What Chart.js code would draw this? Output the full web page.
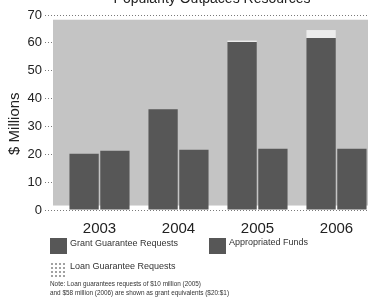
<!DOCTYPE html>
<html>
<head>
<meta charset="utf-8">
<script src="https://cdn.jsdelivr.net/npm/chart.js@4.4.1/dist/chart.umd.min.js"></script>
<style>
  html, body { margin: 0; padding: 0; background: #fff; }
  body { width: 368px; height: 299px; overflow: hidden; position: relative;
         font-family: "Liberation Sans", Arial, sans-serif; color: #222; }
  #wrap { position: absolute; left: 0; top: 0; width: 376px; height: 240px; }
  .sw { position: absolute; width: 17px; height: 16px; background: #575757; }
  .dots { background: #fff;
          background-image: radial-gradient(circle, #9a9a9a 0.7px, transparent 0.8px);
          background-size: 4px 4px; }
  .lg { position: absolute; font-size: 9px; line-height: 10px; white-space: nowrap; color: #333; }
  .note { position: absolute; left: 50px; font-size: 6.4px; line-height: 8px; white-space: nowrap; color: #333; }
</style>
</head>
<body>
<div id="wrap"><canvas id="chart"></canvas></div>

<div class="sw" style="left:50px; top:238px;"></div>
<div class="lg" style="left:70px; top:238px;">Grant Guarantee Requests</div>
<div class="sw" style="left:209px; top:238px;"></div>
<div class="lg" style="left:229px; top:237px;">Appropriated Funds</div>
<div class="sw dots" style="left:50px; top:262px;"></div>
<div class="lg" style="left:70px; top:261px;">Loan Guarantee Requests</div>
<div class="note" style="top:280px;">Note: Loan guarantees requests of $10 million (2005)</div>
<div class="note" style="top:289px;">and $58 million (2006) are shown as grant equivalents ($20:$1)</div>

<script>
const TITLE = "Popularity Outpaces Resources";
const Y_TITLE = "$ Millions";
const YEARS = ["2003", "2004", "2005", "2006"];
const GRANT_REQUESTS = [20.2, 36.2, 60.3, 61.7];
// loan requests as grant equivalents: $10M / 20 and $58M / 20
const LOAN_REQUESTS = [0, 0, 0.5, 2.9];
const APPROPRIATED = [21.3, 21.6, 22, 22];
const Y_TICKS = [0, 10, 20, 30, 40, 50, 60, 70];

const DARK = "#575757";
const LOAN = "#ececec";
const PANEL = "#c4c4c4";
const FONT = "'Liberation Sans', Arial, sans-serif";

/** Stippled panel behind the bars, the clipped title and the rotated y title. */
const panelPlugin = {
  id: "panel",
  beforeDatasetsDraw(chart) {
    const { ctx, chartArea, scales } = chart;
    const top = scales.y.getPixelForValue(68.3);
    const bottom = scales.y.getPixelForValue(1.6);
    ctx.save();
    ctx.fillStyle = PANEL;
    ctx.fillRect(chartArea.left - 7, top, chart.width, bottom - top);
    ctx.restore();
  },
  afterDraw(chart) {
    const { ctx, scales } = chart;
    ctx.save();
    ctx.fillStyle = "#222";
    ctx.font = `14px ${FONT}`;
    ctx.textAlign = "center";
    ctx.textBaseline = "alphabetic";
    ctx.fillText(TITLE, 212, 3);

    ctx.font = `15px ${FONT}`;
    ctx.textBaseline = "middle";
    ctx.translate(15, scales.y.getPixelForValue(31));
    ctx.rotate(-Math.PI / 2);
    ctx.fillText(Y_TITLE, 0, 0);
    ctx.restore();
  },
};

const bar = { barPercentage: 0.95, categoryPercentage: 0.78, borderWidth: 0 };

new Chart(document.getElementById("chart"), {
  type: "bar",
  data: {
    labels: YEARS,
    datasets: [
      { label: "Grant Guarantee Requests", data: GRANT_REQUESTS, backgroundColor: DARK, stack: "req", ...bar },
      { label: "Loan Guarantee Requests", data: LOAN_REQUESTS, backgroundColor: LOAN, stack: "req", ...bar },
      { label: "Appropriated Funds", data: APPROPRIATED, backgroundColor: DARK, stack: "app", ...bar },
    ],
  },
  options: {
    responsive: true,
    maintainAspectRatio: false,
    animation: false,
    layout: { padding: { top: 15, right: 0, bottom: 0, left: 0 } },
    plugins: { legend: { display: false }, tooltip: { enabled: false } },
    scales: {
      x: {
        stacked: true,
        grid: { display: false },
        border: { display: false },
        ticks: { color: "#222", font: { size: 15, family: FONT }, padding: 2 },
      },
      y: {
        stacked: true,
        min: 0,
        max: 70,
        afterFit(scale) { scale.width = 60; },
        afterBuildTicks(scale) { scale.ticks = Y_TICKS.map((v) => ({ value: v })); },
        border: { display: false, dash: [1, 2] },
        grid: {
          color: "#7a7a7a",
          lineWidth: 1,
          tickLength: 15,
          tickColor: "#7a7a7a",
          tickBorderDash: [1, 2],
          drawTicks: true,
        },
        ticks: { color: "#222", font: { size: 13, family: FONT }, padding: 3 },
      },
    },
  },
  plugins: [panelPlugin],
});
</script>
</body>
</html>
